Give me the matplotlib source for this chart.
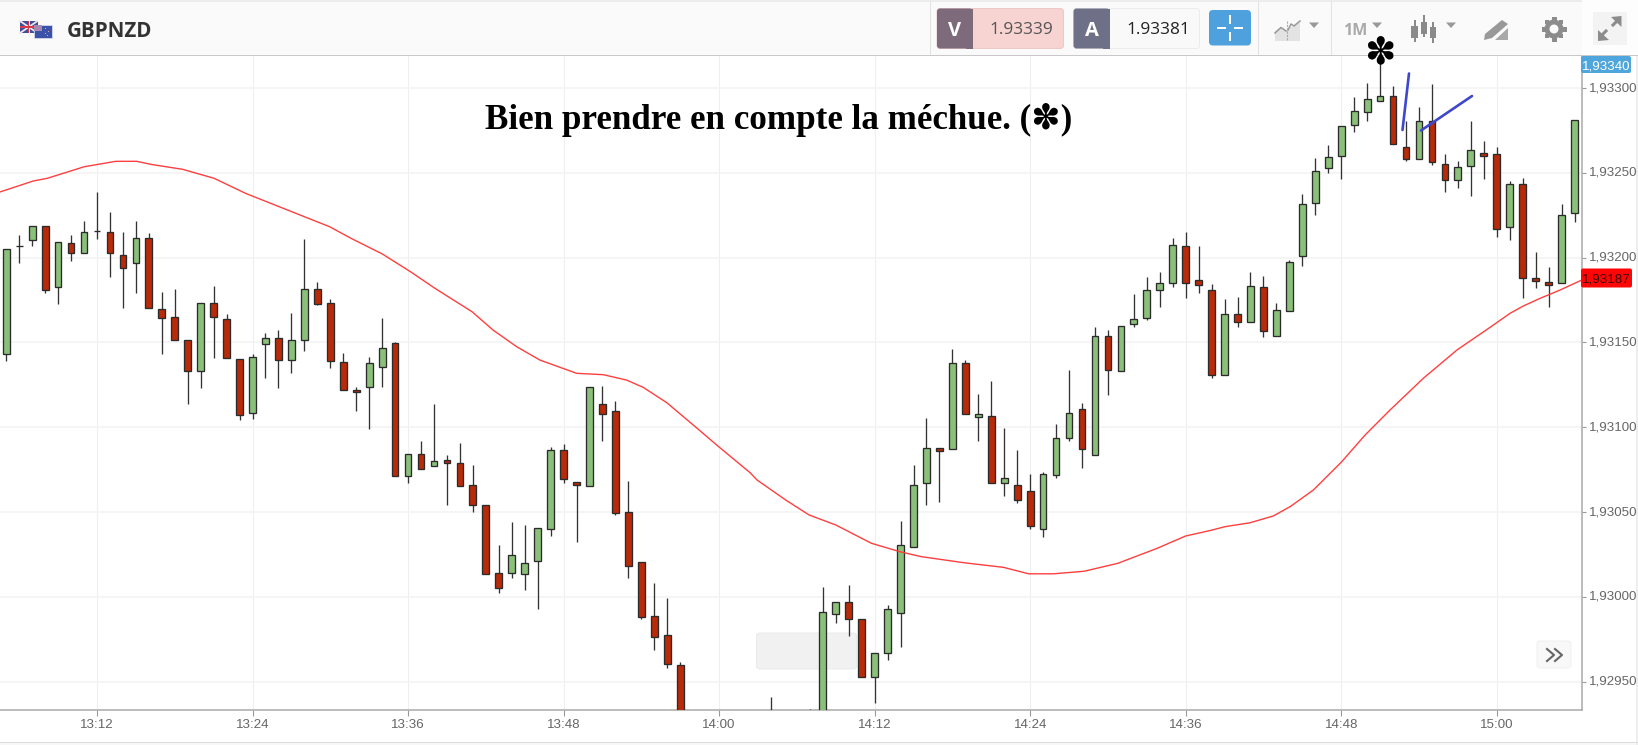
import matplotlib
matplotlib.use("Agg")
import matplotlib.pyplot as plt
from matplotlib.patches import Rectangle, FancyBboxPatch, Polygon, Circle
from matplotlib.transforms import ScaledTranslation

# ---------- data (minutes after 13:00, prices) ----------
candle_minutes = [5,6,7,8,9,10,11,12,13,14,
                  15,16,17,18,19,20,21,22,23,24,
                  25,26,27,28,29,30,31,32,33,34,
                  35,36,37,38,39,40,41,42,43,44,
                  45,46,47,48,49,50,51,52,53,54,
                  55,56,57,
                  64,67,68,
                  69,70,71,72,73,74,75,76,77,78,
                  79,80,81,82,83,84,85,86,87,88,
                  89,90,91,92,93,94,95,96,97,98,
                  99,100,101,102,103,104,105,106,107,108,
                  109,110,111,112,113,114,115,116,117,118,
                  119,120,121,122,123,124,125,126]
opens = [1.931432,1.932070,1.932102,1.932188,1.931829,1.932088,1.932029,1.932157,1.932149,1.932016,
         1.931970,1.932116,1.931697,1.931650,1.931516,1.931332,1.931731,1.931636,1.931402,1.931084,
         1.931491,1.931524,1.931398,1.931516,1.931817,1.931731,1.931383,1.931220,1.931237,1.931357,
         1.931498,1.930713,1.930840,1.930771,1.930807,1.930787,1.930659,1.930542,1.930141,1.930141,
         1.930133,1.930213,1.930398,1.930866,1.930679,1.930652,1.931139,1.931098,1.930500,1.930207,
         1.929889,1.929775,1.929596,
         1.929250,1.929200,1.929250,
         1.929901,1.929970,1.929868,1.929529,1.929669,1.929906,1.930292,1.930671,1.930879,1.930872,
         1.931379,1.931062,1.931066,1.930671,1.930659,1.930626,1.930400,1.930717,1.930938,1.931106,
         1.930838,1.931538,1.931330,1.931609,1.931642,1.931811,1.931849,1.932069,1.931870,1.931809,
         1.931310,1.931669,1.931622,1.931829,1.931538,1.931684,1.932008,1.932320,1.932527,1.932601,
         1.932780,1.932859,1.932925,1.932953,1.932654,1.932580,1.932807,1.932554,1.932459,1.932540,
         1.932615,1.932609,1.932182,1.932434,1.931878,1.931856,1.931849,1.932261]
highs = [1.932051,1.932135,1.932188,1.932188,1.932090,1.932135,1.932214,1.932385,1.932267,1.932153,
         1.932214,1.932147,1.931796,1.931815,1.931516,1.931731,1.931835,1.931669,1.931402,1.931434,
         1.931554,1.931575,1.931675,1.932108,1.931855,1.931754,1.931436,1.931235,1.931416,1.931646,
         1.931502,1.930840,1.930919,1.931137,1.930836,1.930905,1.930777,1.930542,1.930306,1.930440,
         1.930425,1.930408,1.930885,1.930899,1.930679,1.931239,1.931243,1.931156,1.930685,1.930207,
         1.930080,1.929993,1.929614,
         1.929408,1.929339,1.930060,
         1.929970,1.930068,1.929868,1.929669,1.929952,1.930445,1.930777,1.931056,1.930879,1.931463,
         1.931396,1.931198,1.931274,1.930997,1.930866,1.930724,1.930738,1.931017,1.931336,1.931143,
         1.931593,1.931573,1.931597,1.931787,1.931888,1.931914,1.932114,1.932153,1.932067,1.931846,
         1.931754,1.931768,1.931914,1.931893,1.931734,1.931986,1.932373,1.932586,1.932666,1.932774,
         1.932945,1.933031,1.933165,1.933010,1.932806,1.932886,1.933025,1.932613,1.932568,1.932806,
         1.932686,1.932651,1.932452,1.932468,1.932035,1.931947,1.932314,1.932813]
lows = [1.931391,1.931970,1.932070,1.931790,1.931725,1.931982,1.932029,1.932108,1.931884,1.931705,
        1.931790,1.931705,1.931432,1.931516,1.931137,1.931230,1.931410,1.931410,1.931043,1.931049,
        1.931292,1.931230,1.931318,1.931451,1.931721,1.931351,1.931218,1.931098,1.930991,1.931237,
        1.930713,1.930673,1.930752,1.930771,1.930540,1.930652,1.930500,1.930133,1.930021,1.930113,
        1.930040,1.929928,1.930361,1.930673,1.930322,1.930652,1.930919,1.930481,1.930113,1.929868,
        1.929688,1.929582,1.929156,
        1.929150,1.929150,1.929200,
        1.929847,1.929769,1.929529,1.929372,1.929628,1.929703,1.930292,1.930540,1.930557,1.930872,
        1.931076,1.930919,1.930671,1.930593,1.930552,1.930400,1.930353,1.930699,1.930919,1.930760,
        1.930838,1.931192,1.931330,1.931591,1.931632,1.931711,1.931829,1.931764,1.931790,1.931290,
        1.931310,1.931591,1.931622,1.931530,1.931538,1.931684,1.931949,1.932250,1.932501,1.932462,
        1.932741,1.932806,1.932925,1.932668,1.932570,1.932580,1.932548,1.932387,1.932409,1.932365,
        1.932462,1.932123,1.932104,1.931762,1.931823,1.931711,1.931849,1.932208]
closes = [1.932051,1.932070,1.932188,1.931811,1.932090,1.932029,1.932149,1.932157,1.932029,1.931941,
          1.932116,1.931705,1.931642,1.931516,1.931332,1.931731,1.931650,1.931410,1.931072,1.931416,
          1.931524,1.931398,1.931516,1.931817,1.931728,1.931391,1.931218,1.931205,1.931377,1.931465,
          1.930713,1.930840,1.930752,1.930801,1.930791,1.930652,1.930540,1.930133,1.930054,1.930247,
          1.930201,1.930408,1.930866,1.930693,1.930659,1.931239,1.931076,1.930493,1.930180,1.929879,
          1.929761,1.929602,1.929156,
          1.929200,1.929250,1.929909,
          1.929970,1.929868,1.929529,1.929669,1.929928,1.930307,1.930659,1.930879,1.930858,1.931379,
          1.931076,1.931080,1.930671,1.930701,1.930571,1.930419,1.930726,1.930938,1.931086,1.930872,
          1.931538,1.931337,1.931597,1.931636,1.931811,1.931850,1.932076,1.931849,1.931840,1.931310,
          1.931669,1.931622,1.931835,1.931569,1.931689,1.931976,1.932316,1.932509,1.932595,1.932774,
          1.932866,1.932934,1.932953,1.932668,1.932580,1.932807,1.932566,1.932459,1.932534,1.932635,
          1.932601,1.932167,1.932434,1.931882,1.931862,1.931840,1.932250,1.932813]

# moving average trace
ma_minutes = [4.5,7.08,8.17,11.01,13.45,15.07,16.16,18.6,21.03,23.47,26.17,29.96,31.6,34.03,36.19,38.08,
              40.94,42.56,44.38,46.18,49.01,51.07,52.87,54.15,55.96,58.01,59.82,62.39,62.93,65.14,66.94,
              69.0,71.75,73.96,75.61,78.92,81.95,83.88,85.81,88.16,90.77,93.79,96.0,97.93,99.04,100.97,
              102.76,104.06,105.85,108.04,109.84,111.77,114.34,116.92,119.48,121.03,122.05,123.34,124.88,126.56]
ma_values = [1.932387,1.932452,1.932468,1.932536,1.932568,1.932568,1.932550,1.932521,1.932468,1.932379,
             1.932297,1.932182,1.932114,1.932021,1.931917,1.931819,1.931681,1.931573,1.931475,1.931396,
             1.931318,1.931310,1.931278,1.931235,1.931145,1.931013,1.930895,1.930732,1.930689,1.930571,
             1.930483,1.930424,1.930316,1.930266,1.930237,1.930201,1.930174,1.930136,1.930136,1.930151,
             1.930198,1.930286,1.930359,1.930392,1.930414,1.930437,1.930477,1.930532,1.930630,1.930797,
             1.930954,1.931102,1.931289,1.931455,1.931589,1.931672,1.931715,1.931760,1.931809,1.931868]

y_ticks = [1.92950,1.93000,1.93050,1.93100,1.93150,1.93200,1.93250,1.93300]
y_tick_labels = ["1,92950","1,93000","1,93050","1,93100","1,93150","1,93200","1,93250","1,93300"]
x_ticks = [12,24,36,48,60,72,84,96,108,120]
x_tick_labels = ["13:12","13:24","13:36","13:48","14:00","14:12","14:24","14:36","14:48","15:00"]
symbol = "GBPNZD"
bid_price = "1.93339"
ask_price = "1.93381"
last_price = "1,93340"
ma_price = "1,93187"
title = "Bien prendre en compte la méchue. (\u273D)"

W, H = 1638, 745
GREEN, RED, EDGE = "#8ac07a", "#b82a08", "#2b2b2b"
SANS = "Liberation Sans"

fig = plt.figure(figsize=(W / 100, H / 100), dpi=100, facecolor="white")

# main chart
ax = fig.add_axes([0, (H - 710) / H, 1581.5 / W, (710 - 56) / H], facecolor="none", zorder=2)
ax.set_xlim(4.515, 126.54)
ax.set_ylim(1.929333, 1.933189)

ax.set_axisbelow(True)
ax.grid(axis="y", color="#f3f3f3", lw=1.1)
ax.grid(axis="x", color="#efefef", lw=0.8)

colors = [GREEN if c >= o else RED for o, c in zip(opens, closes)]
ax.vlines(candle_minutes, lows, highs, color="#333333", lw=0.95, zorder=3)
bottoms = [min(o, c) for o, c in zip(opens, closes)]
heights = [abs(c - o) for o, c in zip(opens, closes)]
ax.bar(candle_minutes, heights, bottom=bottoms, width=0.52, color=colors,
       edgecolor=EDGE, linewidth=0.95, zorder=4)
ax.plot(ma_minutes, ma_values, color="#ff3f3f", lw=1.0, zorder=5, solid_capstyle="round")

ax.yaxis.tick_right()
ax.set_yticks(y_ticks, y_tick_labels, fontfamily=SANS, fontsize=9.6, color="#666666")
ax.set_xticks(x_ticks, x_tick_labels, fontfamily=SANS, fontsize=9.6, color="#666666")
ax.tick_params(axis="y", length=3, width=0.8, color="#999999", pad=2.2)
ax.tick_params(axis="x", length=4, width=0.8, color="#999999", pad=2.5)
lift = ScaledTranslation(0, 1.5 / 100, fig.dpi_scale_trans)
for lbl in ax.get_yticklabels():
    lbl.set_transform(lbl.get_transform() + lift)
for s in ("top", "left"):
    ax.spines[s].set_visible(False)
for s in ("right", "bottom"):
    ax.spines[s].set_color("#aaaaaa")
    ax.spines[s].set_linewidth(1.1)

# pixel-space layers for the surrounding interface
under = fig.add_axes([0, 0, 1, 1], zorder=1)
under.set_xlim(0, W); under.set_ylim(H, 0); under.axis("off")
under.add_patch(FancyBboxPatch((756.5, 633), 100, 36, boxstyle="round,pad=0,rounding_size=3",
                               fc="#f1f1f1", ec="#e8e8e8", lw=0.6, mutation_aspect=1))

ui = fig.add_axes([0, 0, 1, 1], facecolor="none", zorder=3)
ui.set_xlim(0, W); ui.set_ylim(H, 0); ui.axis("off")

def rect(x0, y0, x1, y1, fc, ec="none", lw=0, z=2, target=None):
    (target or ui).add_patch(Rectangle((x0, y0), x1 - x0, y1 - y0, fc=fc, ec=ec, lw=lw, zorder=z))

def rrect(x0, y0, x1, y1, fc, ec="none", lw=0, r=3, z=2):
    ui.add_patch(FancyBboxPatch((x0 + r, y0 + r), x1 - x0 - 2 * r, y1 - y0 - 2 * r,
                                boxstyle=f"round,pad={r},rounding_size={r}", fc=fc, ec=ec, lw=lw, zorder=z))

def caret(x, y, c="#999999"):
    ui.add_patch(Polygon([(x - 5, y - 2.5), (x + 5, y - 2.5), (x, y + 3)], fc=c, ec="none", zorder=3))

# toolbar
rect(0, 0, W, 55, "#fafafa", z=1)
rect(0, 0, W, 1.5, "#ececec", z=1)
rect(1582, 0, W, 55, "#fdfdfd", z=1)
rect(0, 54.5, W, 56, "#c8c8c8", z=3)
for sx in (930.7, 1200, 1258.6, 1331.6, 1394, 1467, 1525, 1582):
    rect(sx - 0.4, 1, sx + 0.4, 55, "#e2e2e2", z=2)

# flags
rect(20, 21, 37.5, 33, "#3c4f9f", z=2)
ui.plot([20, 37.5], [21, 33], color="#f2e4e6", lw=1.3, zorder=3)
ui.plot([20, 37.5], [33, 21], color="#f2e4e6", lw=1.3, zorder=3)
rect(20, 25.7, 37.5, 28.3, "#f4f0f0", z=3)
rect(27.5, 21, 30, 33, "#f4f0f0", z=3)
rect(20, 26.4, 37.5, 27.6, "#d8394a", z=4)
rect(28.2, 21, 29.3, 33, "#d8394a", z=4)
rect(34, 25, 51.5, 37.5, "#3b52a8", ec="#dfe3ef", lw=0.5, z=5)
rect(34, 25, 42, 31, "#a88ab0", z=6)
for sx, sy in ((45, 28), (48, 31), (44.5, 33), (47, 34.5)):
    rect(sx, sy, sx + 1.2, sy + 1.2, "#e8a0a8", z=6)

ui.text(67, 29, symbol, fontfamily="Open Sans", fontweight="bold", fontsize=14.8,
        color="#333333", ha="left", va="center_baseline", zorder=5)

# bid / ask
rrect(937, 8.5, 1063.5, 48.5, "#f7d4d2", ec="#ecc8c6", lw=0.7)
rrect(937, 8.5, 972.5, 48.5, "#7d6b7b", z=3)
rect(966, 8.5, 972.5, 48.5, "#7d6b7b", z=3)
rrect(1073.5, 8.5, 1199.5, 48.5, "#f9f9f9", ec="#ececec", lw=0.7)
rrect(1073.5, 8.5, 1109.5, 48.5, "#6d7086", z=3)
rect(1103, 8.5, 1109.5, 48.5, "#6d7086", z=3)
ui.text(955, 29, "V", fontfamily="Open Sans", fontweight="bold", fontsize=14.5, color="white",
        ha="center", va="center_baseline", zorder=5)
ui.text(1091.5, 29, "A", fontfamily="Open Sans", fontweight="bold", fontsize=14.5, color="white",
        ha="center", va="center_baseline", zorder=5)
ui.text(1053, 28.5, bid_price, fontfamily="Open Sans", fontsize=12.4, color="#555555",
        ha="right", va="center_baseline", zorder=5)
ui.text(1190, 28.5, ask_price, fontfamily="Open Sans", fontsize=12.4, color="#222222",
        ha="right", va="center_baseline", zorder=5)

# crosshair button
rrect(1209, 10, 1251, 45.5, "#4ea1dd", r=4)
for x0, y0, x1, y1 in ((1217, 27, 1226, 29), (1234, 27, 1243, 29), (1229, 15, 1231, 24), (1229, 32, 1231, 41)):
    rect(x0, y0, x1, y1, "white", z=4)

# chart-type icon
ui.add_patch(Polygon([(1275, 41), (1275, 31), (1281, 27), (1286, 31), (1290, 27), (1294, 26), (1300, 22),
                      (1300, 41)], fc="#e3e3e3", ec="none", zorder=3))
ui.plot([1275, 1281, 1286], [33, 27.5, 31], color="#999999", lw=1.1, zorder=4)
ui.plot([1288, 1291, 1294, 1300], [30, 24, 26, 21], color="#999999", lw=1.1, zorder=4)
ui.plot([1287, 1287], [21, 41], color="#aaaaaa", lw=0.8, ls=(0, (2, 1)), zorder=4)
caret(1314, 25)

ui.text(1355, 29, "1M", fontfamily="Open Sans", fontweight="bold", fontsize=11.5, color="#aaaaaa",
        ha="center", va="center_baseline", zorder=5)
caret(1377, 25)

# candlestick icon
for cx, top, y0, y1, bot in ((1414.5, 20, 26, 38, 42), (1424, 15, 22, 34, 37), (1433, 22, 27, 38, 43)):
    rect(cx - 1, top, cx + 1, bot, "#8a8a8a", z=3)
    rect(cx - 3.2, y0, cx + 3.2, y1, "#8a8a8a", z=4)
caret(1451, 25)

# drawing-tools icon
ui.add_patch(Polygon([(1485, 34), (1502, 20), (1508, 24), (1492, 38), (1484, 40)], fc="#999999", ec="none", zorder=3))
ui.add_patch(Polygon([(1495, 40), (1508, 28), (1508, 40)], fc="#a8a8a8", ec="none", zorder=3))

# gear
for dx, dy, w, h in ((0, 0, 5, 25), (0, 0, 25, 5)):
    rect(1554 - w / 2, 29 - h / 2, 1554 + w / 2, 29 + h / 2, "#8c8c8c", z=3)
for x0, x1, y0, y1 in ((1545, 1549, 20, 24), (1559, 1563, 20, 24), (1545, 1549, 34, 38), (1559, 1563, 34, 38)):
    rect(x0, y0, x1, y1, "#8c8c8c", z=3)
ui.add_patch(Circle((1554, 29), 9.5, fc="#8c8c8c", ec="none", zorder=4))
ui.add_patch(Circle((1554, 29), 4.5, fc="#fafafa", ec="none", zorder=5))

# expand icon
rect(1593, 12, 1627, 45, "#f3f3f3", z=2)
ui.plot([1600, 1606], [37, 31], color="#8c8c8c", lw=2.2, zorder=3)
ui.plot([1613, 1619], [25, 19], color="#8c8c8c", lw=2.2, zorder=3)
ui.add_patch(Polygon([(1611, 17), (1621.5, 16), (1621.5, 27)], fc="#8c8c8c", ec="none", zorder=4))
ui.add_patch(Polygon([(1598, 30), (1598, 41), (1609, 40)], fc="#8c8c8c", ec="none", zorder=4))

# price tags
rrect(1581, 56, 1631, 73, "#4fa6dc", r=2, z=6)
ui.text(1606, 65, last_price, fontfamily=SANS, fontsize=9.6, color="white", ha="center", va="center_baseline", zorder=7)
rrect(1581, 268.5, 1632, 287.5, "#ff0606", r=2, z=6)
ui.text(1606.5, 278.5, ma_price, fontfamily=SANS, fontsize=9.6, color="#3a0505", ha="center", va="center_baseline", zorder=7)

# annotation text and strokes
ui.text(778.5, 129, title, family=["Liberation Serif", "DejaVu Sans"], fontweight="bold", fontsize=25.2,
        color="black", ha="center", va="baseline", zorder=8)
ui.text(1380, 53, "\u273D", family="DejaVu Sans", fontsize=27, color="black", ha="center", va="center", zorder=8)
ui.plot([1402.5, 1409], [130, 73.5], color="#3f48cc", lw=1.9, zorder=8, solid_capstyle="round")
ui.plot([1421, 1472], [130.5, 96], color="#3f48cc", lw=1.9, zorder=8, solid_capstyle="round")

# scroll button
rrect(1537, 641, 1571, 668, "#f8f8f8", ec="#eeeeee", lw=0.6, r=3)
ui.plot([1547, 1554, 1547], [649, 655, 661], color="#666666", lw=1.5, zorder=4)
ui.plot([1555, 1562, 1555], [649, 655, 661], color="#666666", lw=1.5, zorder=4)

# window edges
rect(0, 742, W, H, "#f7f7f7", z=1)
rect(0, 741.5, W, 742.5, "#dddddd", z=2)
rect(1636, 56, W, H, "#eeeeee", z=1)

fig.savefig("out.png", dpi=100)
